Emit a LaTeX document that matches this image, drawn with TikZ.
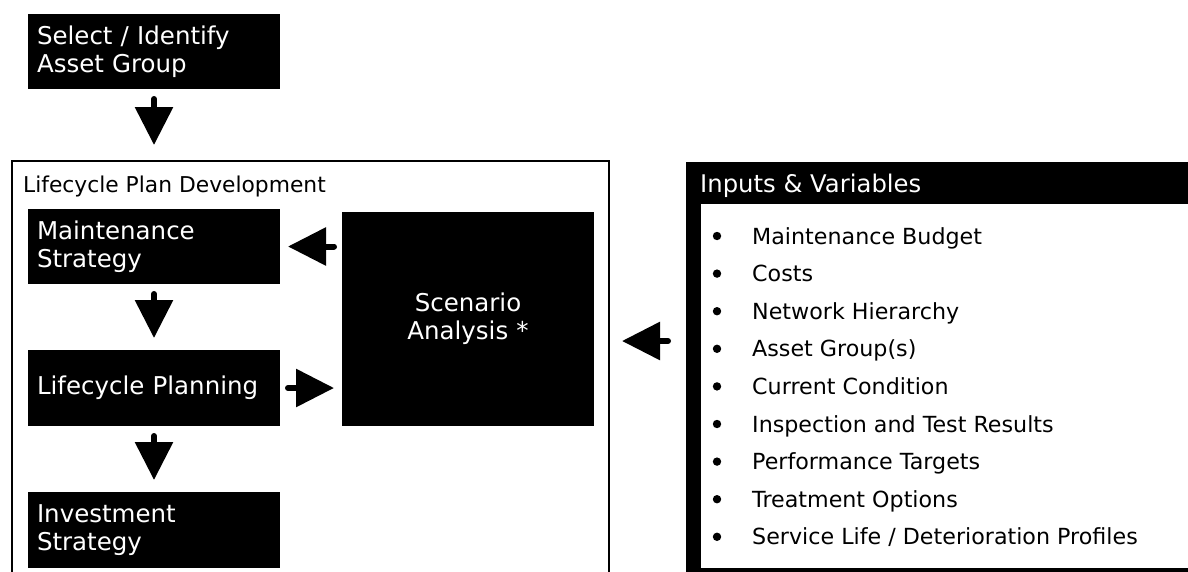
\documentclass[tikz,border=0pt]{standalone}
\usepackage{fontspec}
\setmainfont{DejaVu Sans}
\usetikzlibrary{arrows.meta,calc}

\begin{document}
\begin{tikzpicture}[x=1pt,y=-1pt,
  blackbox/.style={fill=black,text=white,anchor=north west,outer sep=0pt,
    inner xsep=9pt,minimum width=252pt,text width=234pt,align=left,
    font=\fontsize{24.5}{28}\selectfont},
  flow/.style={line width=6pt,line cap=round,-{Triangle[length=38pt,width=37pt]}},
  item/.style={anchor=base west,inner sep=0pt,font=\fontsize{22.2}{26}\selectfont}]
  \useasboundingbox (0,0) rectangle (1188,571);
  \clip (0,0) rectangle (1188,571);
  % Asset group
  \node[blackbox,minimum height=75pt] (sel) at (28,14) {Select / Identify\\Asset Group};
  % Lifecycle plan frame
  \node[draw,line width=2pt,anchor=north west,outer sep=0pt,
    minimum width=597pt,minimum height=430pt] (lpd) at (12,161) {};
  \node[anchor=base west,inner sep=0pt,font=\fontsize{21.8}{26}\selectfont]
    (lpdlabel) at (23,192) {Lifecycle Plan Development};
  % Steps
  \node[blackbox,minimum height=75pt] (maint) at (28,209) {Maintenance\\Strategy};
  \node[blackbox,minimum height=76pt] (lp) at (28,350) {Lifecycle Planning};
  \node[blackbox,minimum height=76pt] (inv) at (28,492) {Investment\\Strategy};
  \node[blackbox,minimum height=214pt,align=center] (scen) at (342,212) {Scenario\\Analysis *};
  % Inputs
  \node[fill=black,anchor=north west,outer sep=0pt,
    minimum width=520pt,minimum height=420pt] (inp) at (686,162) {};
  \fill[white] ($(inp.north west)+(15,42)$) rectangle (1200,568);
  \node[anchor=base west,inner sep=0pt,text=white,font=\fontsize{24.3}{28}\selectfont]
    (inphead) at (700,192) {Inputs \& Variables};
  \foreach \txt [count=\i] in {Maintenance Budget,Costs,Network Hierarchy,
      Asset Group(s),Current Condition,Inspection and Test Results,
      Performance Targets,Treatment Options,Service Life / Deterioration Profiles}{
    \fill (717,{236+37.6*(\i-1)}) circle (4.2pt);
    \node[item] (item\i) at (752,{244+37.6*(\i-1)}) {\txt};
  }
  % Arrows
  \draw[flow,shorten <=10pt,shorten >=16pt] (sel.south) -- (sel.south |- lpd.north);
  \draw[flow,shorten <=10pt,shorten >=12pt] (maint.south) -- (lp.north);
  \draw[flow,shorten <=10pt,shorten >=12pt] (lp.south) -- (inv.north);
  \draw[flow,shorten <=8pt,shorten >=8pt] (scen.west |- maint.east) -- (maint.east);
  \draw[flow,shorten <=8pt,shorten >=8pt] (lp.east) -- (lp.east -| scen.west);
  \coordinate (feed) at (686,341);
  \draw[flow,shorten <=18pt,shorten >=28pt] (feed) -- (feed -| scen.east);
\end{tikzpicture}
\end{document}
